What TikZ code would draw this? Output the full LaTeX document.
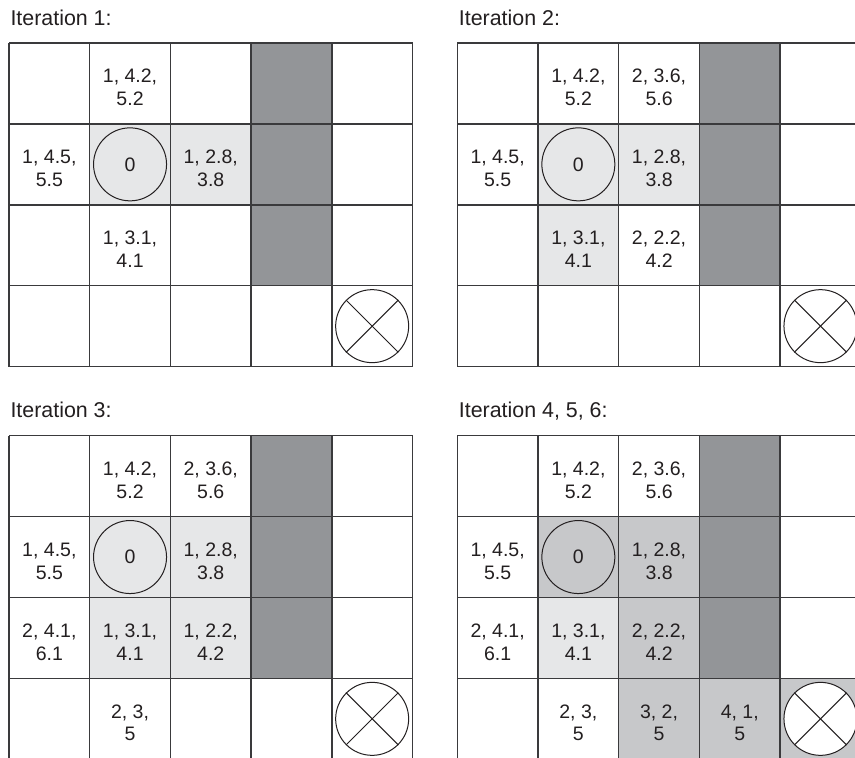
\documentclass[tikz,border=0pt]{standalone}
\usepackage{fontspec}
\setmainfont{Liberation Sans}
\definecolor{gridline}{HTML}{3A3A3C}
\definecolor{ink}{HTML}{231F20}
\definecolor{wall}{HTML}{939598}
\definecolor{visited}{HTML}{E6E7E8}
\definecolor{onpath}{HTML}{C7C8CA}
\def\cw{80.7}
\def\ch{80.9}
\tikzset{
  gridstyle/.style={draw=gridline, line width=1.4pt},
  celltext/.style={text=ink, align=center, inner sep=0pt, yshift=-4pt,
    font=\fontsize{19.5}{22.7}\selectfont},
  starttext/.style={circle, draw=ink, line width=1pt, minimum size=73pt, inner sep=0pt,
    text=ink, font=\fontsize{19.5}{22.7}\selectfont},
  goalmark/.style={circle, draw=ink, fill=white, line width=1pt, minimum size=73pt, inner sep=0pt},
  crossline/.style={draw=ink, line width=1pt},
  titletext/.style={text=ink, anchor=base west, inner sep=0pt, font=\fontsize{21.4}{25}\selectfont},
}
\newcommand\cellfill[3]{\fill[#1] ({(#3-1)*\cw},{(#2-1)*\ch}) rectangle ({#3*\cw},{#2*\ch});}
\newcommand\celltxt[4]{\node[celltext] (#1) at ({(#3-0.5)*\cw},{(#2-0.5)*\ch}) {#4};}
\newcommand\gridframe{%
  \foreach \i in {0,...,5} \draw[gridstyle] ({\i*\cw},0) -- ({\i*\cw},{4*\ch});
  \foreach \j in {0,...,4} \draw[gridstyle] (0,{\j*\ch}) -- ({5*\cw},{\j*\ch});
}
\newcommand\walls{\fill[wall] ({3*\cw},0) rectangle ({4*\cw},{3*\ch});}
\newcommand\startgoal[1]{%
  \node[starttext] (#1start) at ({1.5*\cw},{1.5*\ch}) {0};
  \node[goalmark] (#1goal) at ({4.5*\cw},{3.5*\ch}) {};
  \draw[crossline] (#1goal.45) -- (#1goal.225);
  \draw[crossline] (#1goal.135) -- (#1goal.315);
}
\begin{document}
\begin{tikzpicture}[x=1pt,y=-1pt]
\path[use as bounding box, clip] (0,0) rectangle (855,758);
\fill[white] (0,0) rectangle (855,758);
% titles
\node[titletext] (t1) at (10.3,25) {Iteration 1:};
\node[titletext] (t2) at (458.7,25) {Iteration 2:};
\node[titletext] (t3) at (10.3,417.7) {Iteration 3:};
\node[titletext] (t4) at (458.7,417.7) {Iteration 4, 5, 6:};
% grid 1
\begin{scope}[shift={(9,43)}]
  \cellfill{visited}{2}{2}\cellfill{visited}{2}{3}
  \walls \gridframe
  \startgoal{a}
  \celltxt{a12}{1}{2}{1, 4.2,\\5.2}
  \celltxt{a21}{2}{1}{1, 4.5,\\5.5}
  \celltxt{a23}{2}{3}{1, 2.8,\\3.8}
  \celltxt{a32}{3}{2}{1, 3.1,\\4.1}
\end{scope}
% grid 2
\begin{scope}[shift={(457.3,43)}]
  \cellfill{visited}{2}{2}\cellfill{visited}{2}{3}\cellfill{visited}{3}{2}
  \walls \gridframe
  \startgoal{b}
  \celltxt{b12}{1}{2}{1, 4.2,\\5.2}
  \celltxt{b13}{1}{3}{2, 3.6,\\5.6}
  \celltxt{b21}{2}{1}{1, 4.5,\\5.5}
  \celltxt{b23}{2}{3}{1, 2.8,\\3.8}
  \celltxt{b32}{3}{2}{1, 3.1,\\4.1}
  \celltxt{b33}{3}{3}{2, 2.2,\\4.2}
\end{scope}
% grid 3
\begin{scope}[shift={(9,435.7)}]
  \cellfill{visited}{2}{2}\cellfill{visited}{2}{3}\cellfill{visited}{3}{2}\cellfill{visited}{3}{3}
  \walls \gridframe
  \startgoal{c}
  \celltxt{c12}{1}{2}{1, 4.2,\\5.2}
  \celltxt{c13}{1}{3}{2, 3.6,\\5.6}
  \celltxt{c21}{2}{1}{1, 4.5,\\5.5}
  \celltxt{c23}{2}{3}{1, 2.8,\\3.8}
  \celltxt{c31}{3}{1}{2, 4.1,\\6.1}
  \celltxt{c32}{3}{2}{1, 3.1,\\4.1}
  \celltxt{c33}{3}{3}{1, 2.2,\\4.2}
  \celltxt{c42}{4}{2}{2, 3,\\5}
\end{scope}
% grid 4
\begin{scope}[shift={(457.3,435.7)}]
  \cellfill{onpath}{2}{2}\cellfill{onpath}{2}{3}\cellfill{visited}{3}{2}\cellfill{onpath}{3}{3}
  \cellfill{onpath}{4}{3}\cellfill{onpath}{4}{4}\cellfill{onpath}{4}{5}
  \walls \gridframe
  \startgoal{d}
  \celltxt{d12}{1}{2}{1, 4.2,\\5.2}
  \celltxt{d13}{1}{3}{2, 3.6,\\5.6}
  \celltxt{d21}{2}{1}{1, 4.5,\\5.5}
  \celltxt{d23}{2}{3}{1, 2.8,\\3.8}
  \celltxt{d31}{3}{1}{2, 4.1,\\6.1}
  \celltxt{d32}{3}{2}{1, 3.1,\\4.1}
  \celltxt{d33}{3}{3}{2, 2.2,\\4.2}
  \celltxt{d42}{4}{2}{2, 3,\\5}
  \celltxt{d43}{4}{3}{3, 2,\\5}
  \celltxt{d44}{4}{4}{4, 1,\\5}
\end{scope}
\end{tikzpicture}
\end{document}
